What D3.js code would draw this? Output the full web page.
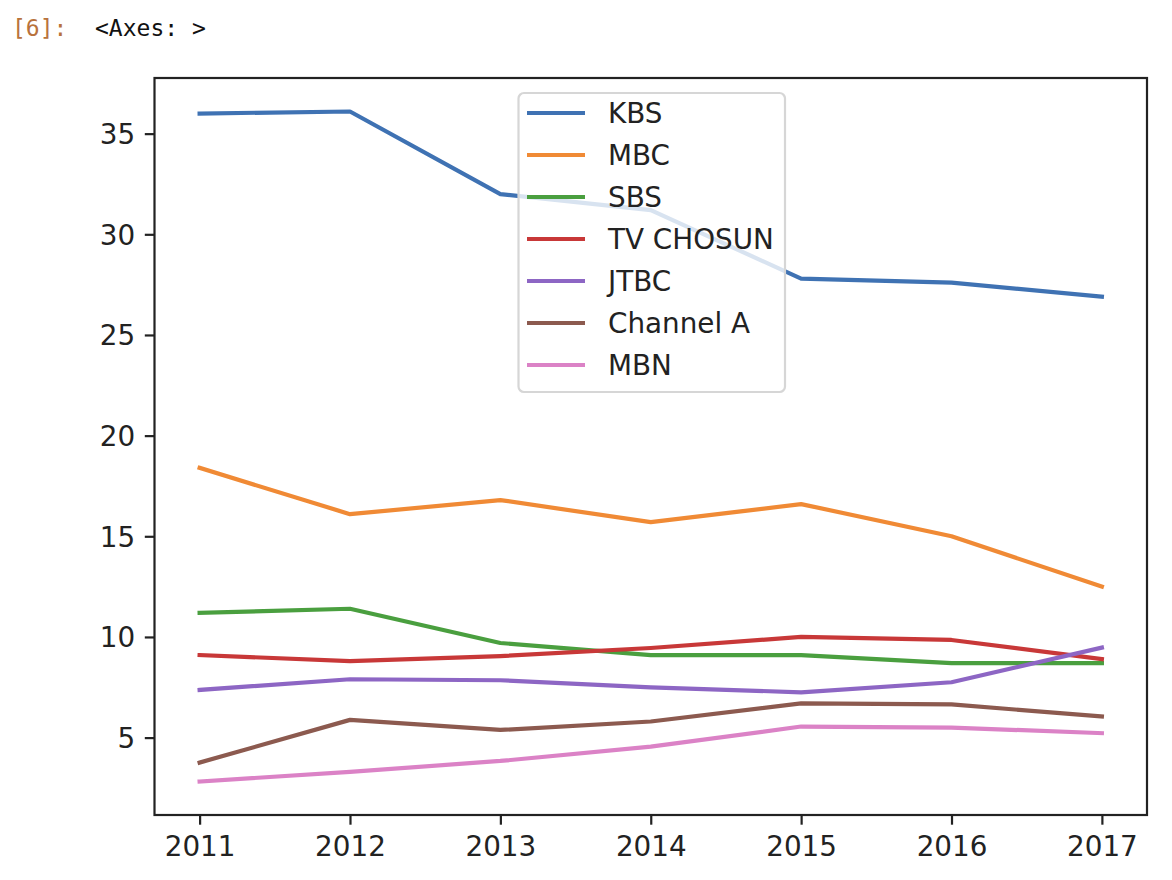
<!DOCTYPE html>
<html lang="en">
<head>
    <meta charset="UTF-8">
    <title>Broadcaster share 2011-2017</title>
    <script src="https://cdnjs.cloudflare.com/ajax/libs/d3/7.8.5/d3.min.js"></script>
    <style>
        body {
            margin: 0;
            background: #fff;
        }
        .prompt { font-family: 'DejaVu Sans Mono', monospace; font-size: 23px; }
        .tick text { font-family: 'DejaVu Sans', sans-serif; font-size: 27.8px; fill: #222; }
        .legend text { font-family: 'DejaVu Sans', sans-serif; font-size: 27.8px; fill: #222; }
    </style>
</head>
<body>
    <div id="chart"></div>

    <script>
        // values
        const years = [2011, 2012, 2013, 2014, 2015, 2016, 2017];
        const kbs = [36.0, 36.1, 32.0, 31.2, 27.8, 27.6, 26.9];
        const mbc = [18.4, 16.1, 16.8, 15.7, 16.6, 15.0, 12.5];
        const sbs = [11.2, 11.4, 9.7, 9.1, 9.1, 8.7, 8.7];
        const tvChosun = [9.1, 8.8, 9.05, 9.45, 10.0, 9.85, 8.9];
        const jtbc = [7.37, 7.9, 7.85, 7.5, 7.25, 7.75, 9.47];
        const channelA = [3.76, 5.88, 5.38, 5.8, 6.7, 6.65, 6.05];
        const mbn = [2.82, 3.3, 3.84, 4.55, 5.55, 5.5, 5.22];

        const channelNames = ["KBS", "MBC", "SBS", "TV CHOSUN", "JTBC", "Channel A", "MBN"];
        const channelValues = [kbs, mbc, sbs, tvChosun, jtbc, channelA, mbn];
        const channelColors = ["#3f72b3", "#f08a35", "#4a9f3f", "#c83838", "#8d66c4", "#8c5a4f", "#db82c6"];
        const yTicks = [5, 10, 15, 20, 25, 30, 35];

        const W = 1172, H = 880;
        const plot = { left: 154.5, right: 1147, top: 78, bottom: 815 };

        const svg = d3.select("#chart")
            .append("svg")
            .attr("width", W)
            .attr("height", H);

        // notebook output prompt
        svg.append("text").attr("class", "prompt")
            .attr("x", 12).attr("y", 36)
            .attr("fill", "#b8723c")
            .text("[6]:");
        svg.append("text").attr("class", "prompt")
            .attr("x", 95).attr("y", 36)
            .attr("fill", "#111")
            .text("<Axes: >");

        // matplotlib style 5% margins
        const xPad = (d3.max(years) - d3.min(years)) * 0.05;
        const x = d3.scaleLinear()
            .domain([d3.min(years) - xPad, d3.max(years) + xPad])
            .range([plot.left, plot.right]);

        const allVals = channelValues.flat();
        const yMin = d3.min(allVals), yMax = d3.max(allVals);
        const yPad = (yMax - yMin) * 0.05;
        const y = d3.scaleLinear()
            .domain([yMin - yPad, yMax + yPad])
            .range([plot.bottom, plot.top]);

        svg.append("defs").append("clipPath").attr("id", "clip")
            .append("rect")
            .attr("x", plot.left).attr("y", plot.top)
            .attr("width", plot.right - plot.left)
            .attr("height", plot.bottom - plot.top);

        const line = d3.line()
            .x((d, i) => x(years[i]))
            .y(d => y(d));

        svg.append("g")
            .attr("clip-path", "url(#clip)")
            .selectAll("path")
            .data(channelValues)
            .join("path")
            .attr("d", d => line(d))
            .attr("fill", "none")
            .attr("stroke", (d, i) => channelColors[i])
            .attr("stroke-width", 4.2)
            .attr("stroke-linejoin", "round")
            .attr("stroke-linecap", "square");

        // axes
        const xAxis = svg.append("g")
            .attr("transform", `translate(0,${plot.bottom})`)
            .call(d3.axisBottom(x).tickValues(years).tickFormat(d3.format("d"))
                .tickSize(9.7).tickPadding(9.7));
        const yAxis = svg.append("g")
            .attr("transform", `translate(${plot.left},0)`)
            .call(d3.axisLeft(y).tickValues(yTicks).tickSize(9.7).tickPadding(9.7));

        [xAxis, yAxis].forEach(g => {
            g.select(".domain").remove();
            g.selectAll(".tick line").attr("stroke", "#222").attr("stroke-width", 2.2);
        });
        yAxis.selectAll(".tick text").attr("dy", "0.36em");
        xAxis.selectAll(".tick text").attr("dy", "0.76em");

        svg.append("rect")
            .attr("x", plot.left).attr("y", plot.top)
            .attr("width", plot.right - plot.left)
            .attr("height", plot.bottom - plot.top)
            .attr("fill", "none")
            .attr("stroke", "#222")
            .attr("stroke-width", 2.2);

        // legend
        const legend = svg.append("g").attr("class", "legend")
            .attr("transform", "translate(518.5,93)");
        legend.append("rect")
            .attr("width", 266.5).attr("height", 299)
            .attr("rx", 5.5).attr("ry", 5.5)
            .attr("fill", "#fff").attr("fill-opacity", 0.8)
            .attr("stroke", "#d6d6d6").attr("stroke-width", 2.2);

        const rows = legend.selectAll(".row")
            .data(channelNames)
            .join("g")
            .attr("class", "row")
            .attr("transform", (d, i) => `translate(0,${20 + i * 42})`);
        rows.append("line")
            .attr("x1", 8.5).attr("x2", 66.5)
            .attr("stroke", (d, i) => channelColors[i])
            .attr("stroke-width", 4.2);
        rows.append("text")
            .attr("x", 89.5).attr("y", 10)
            .text(d => d);
    </script>
</body>
</html>
